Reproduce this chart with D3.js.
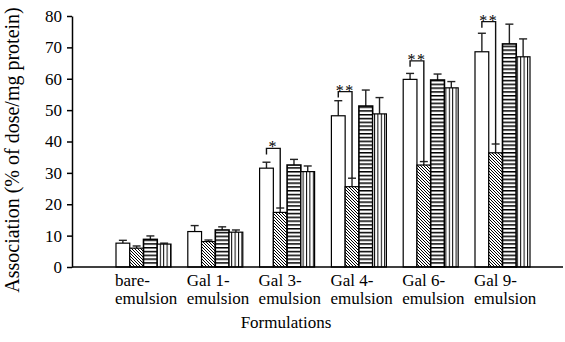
<!DOCTYPE html>
<html>
<head>
<meta charset="utf-8">
<script src="https://cdn.jsdelivr.net/npm/d3@7"></script>
<style>
  body { margin: 0; background: #fff; }
</style>
</head>
<body>
<script>
width = 565;
height = 342;
const FONT = 'Liberation Serif, DejaVu Serif, serif';

const categories = ['bare-emulsion', 'Gal 1-emulsion', 'Gal 3-emulsion', 'Gal 4-emulsion', 'Gal 6-emulsion', 'Gal 9-emulsion'];
const labelLines = [['bare-', 'emulsion'], ['Gal 1-', 'emulsion'], ['Gal 3-', 'emulsion'], ['Gal 4-', 'emulsion'], ['Gal 6-', 'emulsion'], ['Gal 9-', 'emulsion']];
const seriesKeys = ['s1', 's2', 's3', 's4'];

const s1 = [7.6, 11.3, 31.5, 48.2, 59.8, 68.6];
const s1Err = [0.9, 1.9, 1.9, 4.8, 1.9, 5.9];
const s2 = [6.0, 8.1, 17.4, 25.6, 32.5, 36.4];
const s2Err = [0.7, 0.5, 1.4, 2.7, 1.1, 2.8];
const s3 = [8.8, 11.8, 32.5, 51.3, 59.6, 71.1];
const s3Err = [1.1, 1.0, 1.8, 5.1, 1.9, 6.3];
const s4 = [7.3, 11.1, 30.4, 48.8, 57.1, 67.0];
const s4Err = [0.3, 0.7, 1.8, 5.2, 2.0, 5.7];

const yTicks = [0, 10, 20, 30, 40, 50, 60, 70, 80];

const sigCats = ['Gal 3-emulsion', 'Gal 4-emulsion', 'Gal 6-emulsion', 'Gal 9-emulsion'];
const sigLevel = [37.8, 55.9, 65.7, 78.2];
const sigLabel = ['*', '**', '**', '**'];

function main() {
  const svg = d3.select('body').append('svg')
    .attr('width', width).attr('height', height)
    .attr('font-family', FONT);
  createPatterns(svg);

  const y = d3.scaleLinear().domain([0, 80]).range([267, 16]);
  const x = d3.scaleBand().domain(categories).range([107.6, 538.4]).paddingInner(0.234).paddingOuter(0.117);
  const xs = d3.scaleBand().domain(seriesKeys).range([0, x.bandwidth()]);

  const values = { s1, s2, s3, s4 };
  const errs = { s1: s1Err, s2: s2Err, s3: s3Err, s4: s4Err };
  const fills = { s1: '#fff', s2: 'url(#diag)', s3: 'url(#horiz)', s4: 'url(#vert)' };

  const rows = [];
  categories.forEach((c, i) => {
    seriesKeys.forEach(k => rows.push({ cat: c, key: k, v: values[k][i], e: errs[k][i] }));
  });

  // error bars, upper half only
  const eb = svg.append('g').attr('stroke', '#222').attr('stroke-width', 1.4);
  rows.forEach(d => {
    const cx = x(d.cat) + xs(d.key) + xs.bandwidth() / 2;
    eb.append('line').attr('x1', cx).attr('x2', cx).attr('y1', y(d.v)).attr('y2', y(d.v + d.e));
    eb.append('line').attr('x1', cx - 4).attr('x2', cx + 4).attr('y1', y(d.v + d.e)).attr('y2', y(d.v + d.e));
  });

  svg.append('g')
    .selectAll('rect')
    .data(rows)
    .enter()
    .append('rect')
    .attr('x', d => x(d.cat) + xs(d.key))
    .attr('y', d => y(d.v))
    .attr('width', xs.bandwidth())
    .attr('height', d => y(0) - y(d.v))
    .attr('fill', d => fills[d.key])
    .attr('stroke', '#000')
    .attr('stroke-width', d => (d.key === 's3' ? 1.6 : 1.2));

  // significance brackets
  const sg = svg.append('g');
  sigCats.forEach((c, i) => {
    const ci = categories.indexOf(c);
    const xl = x(c) + xs('s1') + xs.bandwidth() / 2;
    const xr = x(c) + xs('s2') + xs.bandwidth() / 2;
    const top = y(sigLevel[i]);
    const rightBottom = y(s2[ci] + s2Err[ci]);
    sg.append('path')
      .attr('d', `M${xl},${top + 6}V${top}H${xr}V${rightBottom}`)
      .attr('fill', 'none')
      .attr('stroke', '#111')
      .attr('stroke-width', 1.4);
    sg.append('text')
      .attr('x', (xl + xr) / 2)
      .attr('y', top + 4)
      .attr('text-anchor', 'middle')
      .attr('font-size', 16)
      .attr('letter-spacing', 1.5)
      .text(sigLabel[i]);
  });

  // axes
  const yAxis = svg.append('g')
    .attr('transform', 'translate(72,0)')
    .call(d3.axisLeft(y).tickValues(yTicks).tickSize(5).tickSizeOuter(0).tickPadding(5));
  yAxis.attr('font-family', FONT).attr('font-size', 17);
  yAxis.selectAll('path, line').attr('stroke', '#000').attr('stroke-width', 1.5);
  yAxis.selectAll('text').attr('fill', '#000');

  svg.append('line')
    .attr('x1', 72).attr('x2', 563)
    .attr('y1', y(0)).attr('y2', y(0))
    .attr('stroke', '#000').attr('stroke-width', 1.6);

  const xl = svg.append('g').selectAll('text').data(categories).enter().append('text')
    .attr('font-size', 17);
  xl.each(function (c, i) {
    const t = d3.select(this);
    labelLines[i].forEach((ln, j) => {
      t.append('tspan').attr('x', x(c) - 1).attr('y', 286 + j * 18).text(ln);
    });
  });

  svg.append('text')
    .attr('x', 286).attr('y', 328)
    .attr('text-anchor', 'middle')
    .attr('font-size', 17)
    .text('Formulations');

  svg.append('text')
    .attr('transform', 'translate(19,150) rotate(-90)')
    .attr('text-anchor', 'middle')
    .attr('font-size', 20)
    .text('Association (% of dose/mg protein)');
}

function createPatterns(svg) {
  const defs = svg.append('defs');

  const diag = defs.append('pattern').attr('id', 'diag')
    .attr('patternUnits', 'userSpaceOnUse').attr('width', 3).attr('height', 3);
  diag.append('rect').attr('width', 3).attr('height', 3).attr('fill', '#fff');
  diag.append('path').attr('d', 'M-1,-1L4,4M2,-1L4,1M-1,2L1,4').attr('stroke', '#000').attr('stroke-width', 1);

  const horiz = defs.append('pattern').attr('id', 'horiz')
    .attr('patternUnits', 'userSpaceOnUse').attr('width', 4).attr('height', 3.8);
  horiz.append('rect').attr('width', 4).attr('height', 3.8).attr('fill', '#fff');
  horiz.append('rect').attr('width', 4).attr('height', 1.5).attr('fill', '#000');

  const vert = defs.append('pattern').attr('id', 'vert')
    .attr('patternUnits', 'userSpaceOnUse').attr('width', 3.4).attr('height', 4);
  vert.append('rect').attr('width', 3.4).attr('height', 4).attr('fill', '#fff');
  vert.append('rect').attr('width', 1).attr('height', 4).attr('fill', '#000');
}

main();
</script>
</body>
</html>
